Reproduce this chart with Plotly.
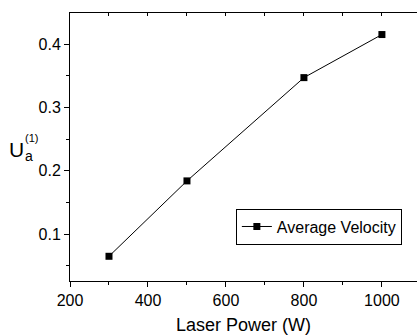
import plotly.graph_objects as go

laser_power = [300, 500, 800, 1000]
avg_velocity = [0.065, 0.184, 0.347, 0.415]
x_ticks = [200, 400, 600, 800, 1000]
y_ticks = [0.1, 0.2, 0.3, 0.4]

FONT = "Liberation Sans, Arial, sans-serif"

fig = go.Figure()
fig.add_trace(go.Scatter(
    x=laser_power, y=avg_velocity, mode="lines+markers",
    name="Average Velocity",
    line=dict(color="black", width=1),
    marker=dict(symbol="square", size=7, color="black"),
))
# invisible trace for top axis ticks
fig.add_trace(go.Scatter(x=laser_power, y=avg_velocity, xaxis="x2", mode="none",
                         showlegend=False, hoverinfo="skip"))

fig.update_layout(
    width=417, height=336,
    margin=dict(l=70, r=0, t=13, b=55),
    plot_bgcolor="white", paper_bgcolor="white",
    font=dict(family=FONT, size=16, color="black"),
    xaxis=dict(
        range=[200, 1090], tickvals=x_ticks, ticks="outside", ticklen=5,
        tickcolor="black", showline=True, linecolor="black", linewidth=1,
        showgrid=False, zeroline=False, tickfont=dict(size=16),
        minor=dict(dtick=100, tick0=0, ticks="outside", ticklen=3, tickcolor="black"),
        title=dict(text="Laser Power (W)", font=dict(size=18), standoff=10),
    ),
    xaxis2=dict(
        range=[200, 1090], overlaying="x", side="top", tickvals=[300, 400, 500, 600, 700, 800, 900, 1000],
        ticks="inside", ticklen=3, tickcolor="black", showticklabels=False,
        showline=True, linecolor="black", linewidth=1, showgrid=False, zeroline=False,
    ),
    yaxis=dict(
        range=[0.026, 0.449], tickvals=y_ticks, ticks="outside", ticklen=5,
        tickcolor="black", showline=True, linecolor="black", linewidth=1,
        showgrid=False, zeroline=False, tickfont=dict(size=16),
        minor=dict(dtick=0.05, tick0=0, ticks="outside", ticklen=3, tickcolor="black"),
    ),
    legend=dict(
        x=0.478, y=0.203, xanchor="left", yanchor="middle",
        bordercolor="black", borderwidth=1, bgcolor="white",
        font=dict(size=16), itemwidth=30,
        tracegroupgap=0,
    ),
    showlegend=True,
)

fig.add_annotation(text="U", xref="paper", yref="paper", x=-0.153, y=0.489,
                   showarrow=False, font=dict(size=21, family=FONT), xanchor="center", yanchor="middle")
fig.add_annotation(text="a", xref="paper", yref="paper", x=-0.117, y=0.466,
                   showarrow=False, font=dict(size=14, family=FONT), xanchor="center", yanchor="middle")
fig.add_annotation(text="(1)", xref="paper", yref="paper", x=-0.111, y=0.535,
                   showarrow=False, font=dict(size=11, family=FONT), xanchor="center", yanchor="middle")

fig.write_html("out.html")
